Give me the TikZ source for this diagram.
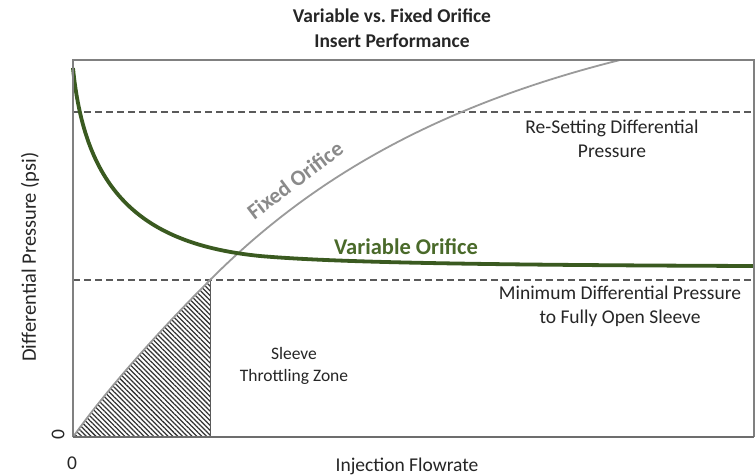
\documentclass[tikz,border=0pt]{standalone}
\usepackage{fontspec}
\setmainfont{Carlito}
\usetikzlibrary{patterns.meta}
\definecolor{boxgray}{HTML}{808080}
\definecolor{dashgray}{HTML}{5A5A5A}
\definecolor{fixedgray}{HTML}{9A9A9A}
\definecolor{fixedtext}{HTML}{8A8A8A}
\definecolor{vargreen}{HTML}{3A5A20}
\definecolor{vartext}{HTML}{4A6A2A}
\definecolor{txt}{HTML}{262626}
\tikzset{
  lbl/.style={inner sep=0pt, text=txt, font=\fontsize{19.5}{24}\selectfont, align=center},
  ttl/.style={inner sep=0pt, text=txt, font=\bfseries\fontsize{19.5}{25}\selectfont, align=center},
  dashline/.style={dashgray, line width=1.2pt, dash pattern=on 7pt off 4pt},
  frame/.style={boxgray, line width=1.5pt},
}
\frenchspacing
\begin{document}
\begin{tikzpicture}[x=1pt,y=-1pt]
\useasboundingbox (0,0) rectangle (755,475);
\fill[white] (0,0) rectangle (755,475);
% hatched throttling zone
\fill[pattern={Lines[angle=-45,distance=3.4pt,line width=1.25pt]}, pattern color=black!80]
  (73,437) .. controls (110,385) and (165,325) .. (210,280) -- (210,437) -- cycle;
\draw[dashgray, line width=1pt] (210,280) -- (210,437);
% dashed reference lines
\draw[dashline] (73,112) -- (754,112);
\draw[dashline] (73,280) -- (754,280);
% fixed orifice curve
\draw[fixedgray, line width=1.8pt] (73,437) .. controls (110,385) and (165,325) .. (210,280)
  .. controls (300,190) and (420,110) .. (620,60);
% variable orifice curve
\draw[vargreen, line width=3.8pt] (73,68) .. controls (85,190) and (140,244) .. (260,256)
  .. controls (340,263) and (500,265) .. (754,266);
% frame
\draw[frame] (73,437) -- (73,60) -- (754,60) -- (754,437);
\draw[boxgray!85!black, line width=2pt] (73,437) -- (754,437);
% texts
\node[ttl] (title) at (392,28) {Variable vs. Fixed Orifice\\Insert Performance};
\node[lbl] (reset) at (612,139) {Re-Setting Differential\\Pressure};
\node[lbl] (minp) at (620,306) {Minimum Differential Pressure\\to Fully Open Sleeve};
\node[inner sep=0pt, text=txt, font=\fontsize{17.5}{22}\selectfont, align=center] (sleeve) at (294,366) {Sleeve\\Throttling Zone};
\node[lbl, rotate=90, font=\fontsize{20.5}{24}\selectfont] (ylab) at (30,257) {Differential Pressure (psi)};
\node[lbl, rotate=90] (yzero) at (58,435) {0};
\node[lbl] (xzero) at (72,463) {0};
\node[lbl] (xlab) at (407,466) {Injection Flowrate};
\node[inner sep=0pt, text=fixedtext, font=\bfseries\fontsize{22}{26}\selectfont, rotate=37] (fixlab) at (295,180) {Fixed Orifice};
\node[inner sep=0pt, text=vartext, font=\bfseries\fontsize{22.5}{26}\selectfont] (varlab) at (406,247) {Variable Orifice};
\end{tikzpicture}
\end{document}
